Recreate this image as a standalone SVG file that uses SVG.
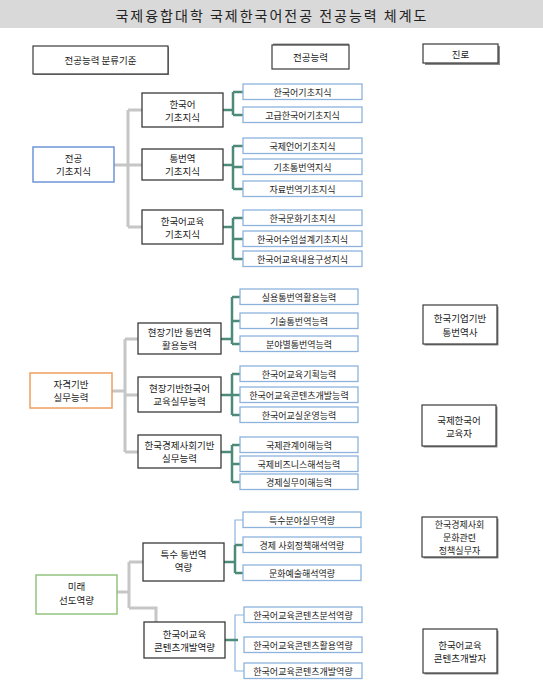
<svg xmlns="http://www.w3.org/2000/svg" width="543" height="684" viewBox="0 0 543 684">
<style>
.t{font-family:"Noto Sans CJK KR","Noto Sans",sans-serif;font-size:9.5px;fill:#222;text-anchor:middle;dominant-baseline:central}
.s{font-size:9px}
.ttl{font-family:"Noto Sans CJK KR","Noto Sans",sans-serif;font-size:14px;fill:#222;text-anchor:middle;dominant-baseline:central;letter-spacing:2px}
.hbox{fill:#fff;stroke:#3a3a3a;stroke-width:1.2}
.pbox{fill:#fff;stroke:#3a3a3a;stroke-width:1.3}
.cbox{fill:#fff;stroke:#8db3dc;stroke-width:1.3}
.shd{fill:#8a8a8a}
.gray{fill:none;stroke:#c6c6c6;stroke-width:3}
.green{fill:none;stroke:#4e8a7a;stroke-width:2.5}
.blue{fill:none;stroke:#8db3dc;stroke-width:1.2}
</style>
<rect x="0" y="0" width="543" height="28" fill="#d9d9d9"/>
<text class="ttl" x="272" y="15">국제융합대학 국제한국어전공  전공능력 체계도</text>

<g id="connectors">
  <path class="gray" d="M114 165H128M128 110V227M128 110H142M128 165H142M128 227H142"/>
  <path class="green" d="M223 110H233M233 92V115M233 92H243M233 115H243"/>
  <path class="green" d="M223 165H233M233 146V189M233 146H243M233 167H243M233 189H243"/>
  <path class="green" d="M223 227H233M233 218V259M233 218H243M233 239H243M233 259H243"/>

  <path class="gray" d="M112 391H125M125 339V452M125 339H138M125 395H138M125 452H138"/>
  <path class="green" d="M221 339H232M232 297V344M232 297H240M232 321H240M232 344H240"/>
  <path class="green" d="M221 395H232M232 374V415M232 374H240M232 395H240M232 415H240"/>
  <path class="green" d="M221 452H232M232 445V482M232 445H240M232 464H240M232 482H240"/>

  <path class="gray" d="M117 592H129M129 562V608M129 562H143M129 608H156V622"/>
  <path class="blue" d="M243 520H235V546"/>
  <path class="green" d="M224 562H235M235 545V573M235 545H243M235 573H243"/>
  <path class="blue" d="M244 615H235V671H244"/>
  <path class="green" d="M225 640H238"/>
</g>

<g id="h-criteria">
  <rect class="shd" x="34" y="47" width="135" height="28"/>
  <rect class="hbox" x="33" y="46" width="135" height="28"/>
  <text class="t" x="100.5" y="60">전공능력 분류기준</text>
</g>
<g id="h-competency">
  <rect class="shd" x="273" y="43.5" width="76" height="24"/>
  <rect class="hbox" x="272" y="45" width="77" height="24"/>
  <text class="t" x="310.5" y="57">전공능력</text>
</g>
<g id="h-career">
  <rect class="shd" x="425" y="46" width="75" height="19"/>
  <rect class="hbox" x="423" y="44" width="75" height="19"/>
  <text class="t" x="460.5" y="53.5">진로</text>
</g>

<g id="m-basic">
  <rect x="33" y="147" width="81" height="35" fill="#fff" stroke="#6d95d8" stroke-width="1.5"/>
  <text class="t" x="73.5" y="158">전공</text>
  <text class="t" x="73.5" y="171">기초지식</text>
</g>
<g id="p-kor">
  <rect class="pbox" x="142" y="93" width="81" height="34"/>
  <text class="t" x="182.5" y="103.5">한국어</text>
  <text class="t" x="182.5" y="116.5">기초지식</text>
</g>
<g id="p-trans">
  <rect class="pbox" x="142" y="149" width="81" height="31"/>
  <text class="t" x="182.5" y="158">통번역</text>
  <text class="t" x="182.5" y="171">기초지식</text>
</g>
<g id="p-edu">
  <rect class="pbox" x="142" y="210" width="81" height="34"/>
  <text class="t" x="182.5" y="220.5">한국어교육</text>
  <text class="t" x="182.5" y="233.5">기초지식</text>
</g>
<g id="c1"><rect class="cbox" x="243" y="84" width="119" height="15.5"/><text class="t s" x="302.5" y="92">한국어기초지식</text></g>
<g id="c2"><rect class="cbox" x="243" y="107" width="119" height="15.5"/><text class="t s" x="302.5" y="115">고급한국어기초지식</text></g>
<g id="c3"><rect class="cbox" x="243" y="138" width="119" height="15.5"/><text class="t s" x="302.5" y="146">국제언어기초지식</text></g>
<g id="c4"><rect class="cbox" x="243" y="159" width="119" height="15.5"/><text class="t s" x="302.5" y="167">기초통번역지식</text></g>
<g id="c5"><rect class="cbox" x="243" y="181" width="119" height="15.5"/><text class="t s" x="302.5" y="189">자료번역기초지식</text></g>
<g id="c6"><rect class="cbox" x="243" y="210" width="119" height="15.5"/><text class="t s" x="302.5" y="218">한국문화기초지식</text></g>
<g id="c7"><rect class="cbox" x="243" y="231" width="119" height="15.5"/><text class="t s" x="302.5" y="239">한국어수업설계기초지식</text></g>
<g id="c8"><rect class="cbox" x="243" y="251" width="119" height="15.5"/><text class="t s" x="302.5" y="259">한국어교육내용구성지식</text></g>

<g id="m-practice">
  <rect x="30" y="373" width="82" height="35" fill="#fff" stroke="#f0a060" stroke-width="1.5"/>
  <text class="t" x="71" y="384">자격기반</text>
  <text class="t" x="71" y="397">실무능력</text>
</g>
<g id="p-field-trans">
  <rect class="pbox" x="138" y="323" width="83" height="31"/>
  <text class="t" x="179.5" y="332">현장기반 통번역</text>
  <text class="t" x="179.5" y="345">활용능력</text>
</g>
<g id="p-field-edu">
  <rect class="pbox" x="138" y="377" width="83" height="35"/>
  <text class="t" x="179.5" y="388">현장기반한국어</text>
  <text class="t" x="179.5" y="401">교육실무능력</text>
</g>
<g id="p-econ">
  <rect class="pbox" x="138" y="435" width="83" height="33"/>
  <text class="t" x="179.5" y="445">한국경제사회기반</text>
  <text class="t" x="179.5" y="458">실무능력</text>
</g>
<g id="c9"><rect class="cbox" x="240" y="289" width="118" height="15.5"/><text class="t s" x="299" y="297">실용통번역활용능력</text></g>
<g id="c10"><rect class="cbox" x="240" y="313" width="118" height="15.5"/><text class="t s" x="299" y="321">기술통번역능력</text></g>
<g id="c11"><rect class="cbox" x="240" y="336" width="118" height="15.5"/><text class="t s" x="299" y="344">분야별통번역능력</text></g>
<g id="c12"><rect class="cbox" x="240" y="366" width="118" height="15.5"/><text class="t s" x="299" y="374">한국어교육기획능력</text></g>
<g id="c13"><rect class="cbox" x="240" y="387" width="118" height="15.5"/><text class="t s" x="299" y="395">한국어교육콘텐츠개발능력</text></g>
<g id="c14"><rect class="cbox" x="240" y="407" width="118" height="15.5"/><text class="t s" x="299" y="415">한국어교실운영능력</text></g>
<g id="c15"><rect class="cbox" x="240" y="437" width="118" height="15.5"/><text class="t s" x="299" y="445">국제관계이해능력</text></g>
<g id="c16"><rect class="cbox" x="240" y="456" width="118" height="15.5"/><text class="t s" x="299" y="464">국제비즈니스해석능력</text></g>
<g id="c17"><rect class="cbox" x="240" y="474" width="118" height="15.5"/><text class="t s" x="299" y="482">경제실무이해능력</text></g>

<g id="m-future">
  <rect x="36" y="575" width="81" height="39" fill="#fff" stroke="#93c47d" stroke-width="1.5"/>
  <text class="t" x="76.5" y="586">미래</text>
  <text class="t" x="76.5" y="600">선도역량</text>
</g>
<g id="p-special">
  <rect class="pbox" x="143" y="543" width="81" height="38"/>
  <text class="t" x="183.5" y="554">특수 통번역</text>
  <text class="t" x="183.5" y="567">역량</text>
</g>
<g id="p-content">
  <rect class="pbox" x="144" y="622" width="81" height="36"/>
  <text class="t" x="184.5" y="633.5">한국어교육</text>
  <text class="t" x="184.5" y="646.5">콘텐츠개발역량</text>
</g>
<g id="c18"><rect class="cbox" x="243" y="512" width="118" height="15.5"/><text class="t s" x="302" y="520">특수분야실무역량</text></g>
<g id="c19"><rect class="cbox" x="243" y="537" width="118" height="15.5"/><text class="t s" x="302" y="545">경제 사회정책해석역량</text></g>
<g id="c20"><rect class="cbox" x="243" y="565" width="118" height="15.5"/><text class="t s" x="302" y="573">문화예술해석역량</text></g>
<g id="c21"><rect class="cbox" x="244" y="607" width="118" height="15.5"/><text class="t s" x="303" y="615">한국어교육콘텐츠분석역량</text></g>
<g id="c22"><rect class="cbox" x="244" y="637" width="118" height="15.5"/><text class="t s" x="303" y="645">한국어교육콘텐츠활용역량</text></g>
<g id="c23"><rect class="cbox" x="244" y="663" width="118" height="15.5"/><text class="t s" x="303" y="671">한국어교육콘텐츠개발역량</text></g>

<g id="k1">
  <rect class="shd" x="424.5" y="306.5" width="74" height="39"/>
  <rect class="hbox" x="423" y="305" width="74" height="39"/>
  <text class="t" x="460" y="318">한국기업기반</text>
  <text class="t" x="460" y="332">통번역사</text>
</g>
<g id="k2">
  <rect class="shd" x="423.5" y="406.5" width="74" height="41"/>
  <rect class="hbox" x="422" y="405" width="74" height="41"/>
  <text class="t" x="459" y="419.5">국제한국어</text>
  <text class="t" x="459" y="433">교육자</text>
</g>
<g id="k3">
  <rect class="shd" x="423.5" y="518.5" width="75" height="40"/>
  <rect class="hbox" x="422" y="517" width="75" height="40"/>
  <text class="t s" x="459.5" y="524">한국경제사회</text>
  <text class="t s" x="459.5" y="537">문화관련</text>
  <text class="t s" x="459.5" y="550">정책실무자</text>
</g>
<g id="k4">
  <rect class="shd" x="424.5" y="630.5" width="74" height="44"/>
  <rect class="hbox" x="423" y="629" width="74" height="44"/>
  <text class="t" x="460" y="645">한국어교육</text>
  <text class="t" x="460" y="658">콘텐츠개발자</text>
</g>
</svg>
